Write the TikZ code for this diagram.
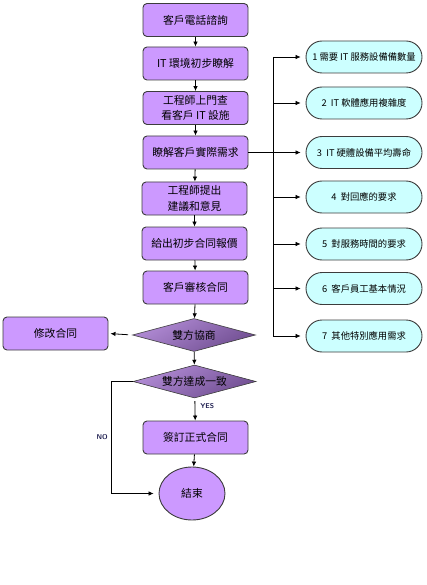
\documentclass[tikz,border=0pt]{standalone}
\usepackage{fontspec}
\newfontfamily\cjk{Noto Sans CJK TC}
\usetikzlibrary{shapes.geometric,shapes.misc,arrows.meta}
\definecolor{boxfill}{RGB}{204,153,255}
\definecolor{pillfill}{RGB}{204,255,255}
\definecolor{edge}{RGB}{60,60,60}
\definecolor{dlight}{RGB}{178,140,214}
\definecolor{ddark}{RGB}{112,78,145}
\definecolor{lbl}{RGB}{30,30,80}
\tikzset{
  flowbox/.style={draw=edge, line width=0.9pt, fill=boxfill, rounded corners=4pt,
    minimum width=105pt, minimum height=33pt, inner sep=0pt, align=center,
    font=\cjk\fontsize{10.8}{15.5}\selectfont},
  decide/.style={diamond, draw=edge, line width=0.6pt, left color=dlight, right color=ddark,
    shading angle=30, minimum width=123pt, minimum height=33pt, aspect=3.7, inner sep=0pt,
    font=\cjk\fontsize{10.8}{12}\selectfont},
  pill/.style={rounded rectangle, draw=edge, line width=0.9pt, fill=pillfill,
    minimum width=116pt, minimum height=32pt, inner sep=0pt,
    font=\cjk\fontsize{9.3}{10}\selectfont},
  endnode/.style={ellipse, draw=edge, line width=0.9pt, fill=boxfill,
    minimum width=66pt, minimum height=53pt, inner sep=0pt,
    font=\cjk\fontsize{10.8}{12}\selectfont},
  conn/.style={line width=0.8pt, -{Latex[length=5pt,width=4.5pt]}},
  thin/.style={line width=0.6pt},
  yn/.style={font=\sffamily\fontsize{7}{8}\selectfont\bfseries, text=lbl, inner sep=0pt}
}
\begin{document}
\begin{tikzpicture}[x=1pt,y=-1pt]
\useasboundingbox (0,0) rectangle (427,585);
% main column
\node[flowbox] (b1) at (195.5,20) {客戶電話諮詢};
\node[flowbox] (b2) at (195.5,63.5) {IT 環境初步瞭解};
\node[flowbox] (b3) at (195.5,108) {工程師上門查\\看客戶 IT 設施};
\node[flowbox] (b4) at (195.5,152.5) {瞭解客戶實際需求};
\node[flowbox] (b5) at (194.5,198.5) {工程師提出\\建議和意見};
\node[flowbox] (b6) at (194.5,243.5) {給出初步合同報價};
\node[flowbox] (b7) at (195.5,287.5) {客戶審核合同};
\node[decide] (d1) at (194,335) {雙方協商};
\node[flowbox] (mod) at (55.5,333.5) {修改合同};
\node[decide] (d2) at (194.5,381.5) {雙方達成一致};
\node[flowbox] (sign) at (195.5,437.5) {簽訂正式合同};
\node[endnode] (fin) at (192,493.5) {結束};
% right column
\node[pill] (p1) at (364,57) {1 需要 IT 服務設備備數量};
\node[pill] (p2) at (364,103) {2 \ IT 軟體應用複雜度};
\node[pill] (p3) at (364,152.5) {3 \ IT 硬體設備平均壽命};
\node[pill] (p4) at (364,197) {4 \ 對回應的要求};
\node[pill] (p5) at (364,244) {5 \ 對服務時間的要求};
\node[pill] (p6) at (364,288.5) {6 \ 客戶員工基本情況};
\node[pill] (p7) at (364,336) {7 \ 其他特別應用需求};
\coordinate (busTop) at (273,57);
\coordinate (busBot) at (273,336);
\coordinate (noc) at (111,381.5);
% main arrows
\draw[conn] (b1) -- (b2);
\draw[conn] (b2) -- (b3);
\draw[conn] (b3) -- (b4);
\draw[conn] (b4) -- (b5);
\draw[conn] (b5) -- (b6);
\draw[conn] (b6) -- (b7);
\draw[conn] (b7) -- (d1);
\draw[conn] (d1) -- (d2);
\draw[conn, shorten <=4pt, shorten >=2pt] (d1.west) -- (mod.east);
\draw[conn, shorten <=3pt] (d2) -- node[yn, right=5pt, pos=0.35] {YES} (sign);
\draw[conn] (sign) -- (fin);
\draw[conn, thin, shorten >=5pt] (d2.west) -- (noc) |- node[yn, pos=0.25, left=3pt] {NO} (fin.west);
% bus
\draw[thin] (busTop) -- (busBot);
\draw[conn, thin, shorten >=5pt] (b4.east) -- (p3.west);
\foreach \p in {p1,p2,p4,p5,p6,p7}
  \draw[conn, thin, shorten >=5pt] (busTop |- \p.west) -- (\p.west);
\end{tikzpicture}
\end{document}
